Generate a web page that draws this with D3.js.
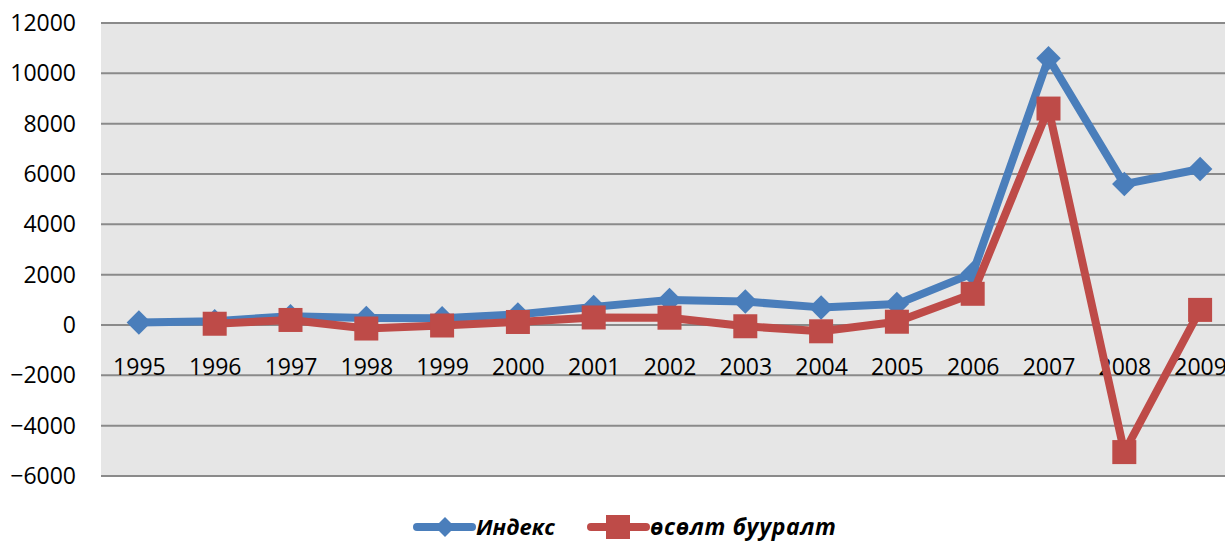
<!DOCTYPE html>
<html>
<head>
<meta charset="utf-8">
<script src="https://cdn.jsdelivr.net/npm/d3@7"></script>
<style>
  body { margin: 0; background: #fff; }
  svg { display: block; font-family: "Open Sans", sans-serif; }
</style>
</head>
<body>
<svg id="chart"></svg>
<script>
var years = ["1995", "1996", "1997", "1998", "1999", "2000", "2001", "2002",
             "2003", "2004", "2005", "2006", "2007", "2008", "2009"];

// Индекс
var indexValues = [100, 150, 350, 280, 270, 420, 720, 990,
                   930, 700, 830, 2050, 10600, 5600, 6200];

// өсөлт бууралт (no value for 1995)
var growthValues = [null, 50, 200, -140, -20, 120, 300, 290,
                    -50, -250, 130, 1240, 8600, -5050, 600];

var yTicks = [-6000, -4000, -2000, 0, 2000, 4000, 6000, 8000, 10000, 12000];

var width = 1225;
var height = 542;

//plot area
var plotLeft = 101;
var plotRight = 1238;
var plotTop = 23;
var plotBottom = 476;

var svg = d3.select("#chart")
            .attr("width", width)
            .attr("height", height);

var x = d3.scalePoint()
          .domain(years)
          .range([plotLeft, plotRight])
          .padding(0.5);

var y = d3.scaleLinear()
          .domain([-6000, 12000])
          .range([plotBottom, plotTop]);

svg.append("rect")
  .attr("x", plotLeft)
  .attr("y", plotTop)
  .attr("width", width - plotLeft)
  .attr("height", plotBottom - plotTop)
  .attr("fill", "#e6e6e6");

//gridlines
var grid = svg.append("g");

yTicks.forEach(function (t) {
  grid.append("line")
    .attr("x1", plotLeft)
    .attr("x2", width)
    .attr("y1", y(t))
    .attr("y2", y(t))
    .attr("stroke", "#8a8a8a")
    .attr("stroke-width", 2);
});

//y labels
var yAxis = svg.append("g")
  .attr("transform", "translate(" + (plotLeft - 25) + ",0)")
  .call(d3.axisLeft(y).tickValues(yTicks).tickFormat(d3.format("d"))
          .tickSize(0).tickPadding(0));

yAxis.select(".domain").remove();
yAxis.selectAll("text")
  .attr("font-size", "23px")
  .attr("font-family", "Open Sans, sans-serif")
  .attr("fill", "#000")
  .attr("text-anchor", "end");

//x labels, just under zero line
var xAxis = svg.append("g")
  .attr("transform", "translate(0," + (y(0) + 42) + ")")
  .call(d3.axisBottom(x).tickSize(0).tickPadding(0));

xAxis.select(".domain").remove();
xAxis.selectAll("text")
  .attr("font-size", "23px")
  .attr("font-family", "Open Sans, sans-serif")
  .attr("fill", "#000")
  .attr("dy", ".35em");

var line = d3.line()
  .defined(function (d) { return d != null; })
  .x(function (d, i) { return x(years[i]); })
  .y(function (d) { return y(d); });

var blue = "#4a7ebb";
var red = "#be4b48";

//Индекс
svg.append("path")
  .datum(indexValues)
  .attr("d", line)
  .attr("fill", "none")
  .attr("stroke", blue)
  .attr("stroke-width", 8)
  .attr("stroke-linejoin", "round");

svg.append("g").selectAll("path")
  .data(indexValues)
  .join("path")
  .attr("d", d3.symbol(d3.symbolSquare, 300))
  .attr("transform", function (d, i) {
    return "translate(" + x(years[i]) + "," + y(d) + ") rotate(45)";
  })
  .attr("fill", blue);

//өсөлт бууралт
svg.append("path")
  .datum(growthValues)
  .attr("d", line)
  .attr("fill", "none")
  .attr("stroke", red)
  .attr("stroke-width", 8)
  .attr("stroke-linejoin", "round");

var growthPoints = growthValues
  .map(function (d, i) { return {year: years[i], value: d}; })
  .filter(function (p) { return p.value != null; });

svg.append("g").selectAll("rect")
  .data(growthPoints)
  .join("rect")
  .attr("x", function (p) { return x(p.year) - 12; })
  .attr("y", function (p) { return y(p.value) - 12; })
  .attr("width", 24)
  .attr("height", 24)
  .attr("fill", red);

//legend
var legend = svg.append("g").attr("transform", "translate(0,527)");

legend.append("line")
  .attr("x1", 417).attr("x2", 472)
  .attr("y1", 0).attr("y2", 0)
  .attr("stroke", blue)
  .attr("stroke-width", 8)
  .attr("stroke-linecap", "round");

legend.append("path")
  .attr("d", d3.symbol(d3.symbolSquare, 200))
  .attr("transform", "translate(445,0) rotate(45)")
  .attr("fill", blue);

legend.append("text")
  .text("Индекс")
  .attr("x", 476)
  .attr("dy", ".35em")
  .attr("font-size", "22px")
  .attr("font-weight", "bold")
  .attr("font-style", "italic");

legend.append("line")
  .attr("x1", 591).attr("x2", 646)
  .attr("y1", 0).attr("y2", 0)
  .attr("stroke", red)
  .attr("stroke-width", 8)
  .attr("stroke-linecap", "round");

legend.append("rect")
  .attr("x", 606).attr("y", -12)
  .attr("width", 24).attr("height", 24)
  .attr("fill", red);

legend.append("text")
  .text("өсөлт бууралт")
  .attr("x", 650)
  .attr("dy", ".35em")
  .attr("font-size", "23px")
  .attr("letter-spacing", "0.6px")
  .attr("font-weight", "bold")
  .attr("font-style", "italic");
</script>
</body>
</html>
